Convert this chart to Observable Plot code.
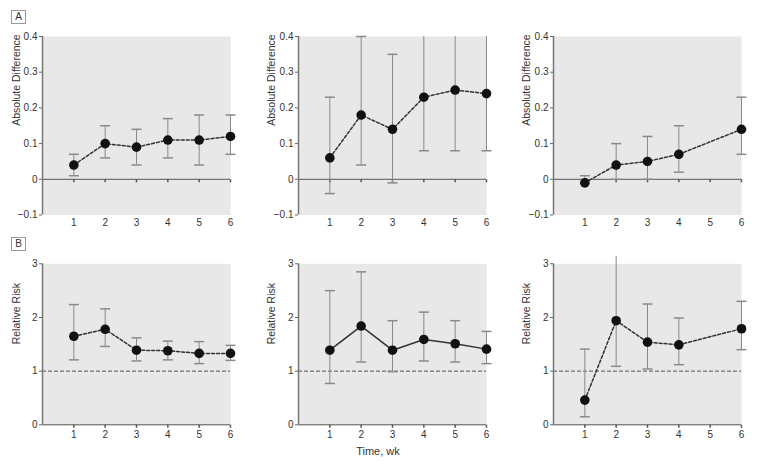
<!DOCTYPE html>
<html><head><meta charset="utf-8">
<script src="https://cdn.jsdelivr.net/npm/d3@7"></script>
<script src="https://cdn.jsdelivr.net/npm/@observablehq/plot@0.6"></script>
<style>
body{margin:0;background:#fff;}
#chart{position:relative;width:760px;height:461px;font-family:"Liberation Sans",Arial,sans-serif;color:#333;overflow:hidden;}
.panel{position:absolute;}
.panel svg{overflow:visible;}
.tag{position:absolute;width:13px;height:12px;border:1px solid #9a9a9a;font-size:10px;line-height:12px;text-align:center;color:#333;box-sizing:content-box;}
#xlabel{position:absolute;left:328px;width:100px;top:445px;text-align:center;font-size:11px;color:#333;}
</style></head><body><div id="chart"></div><script>
// ---- data ----
const weeksAll = [1, 2, 3, 4, 5, 6];
const weeksSkip5 = [1, 2, 3, 4, 6];
const weekTicks = [1, 2, 3, 4, 5, 6];

// Panel A: absolute difference
const a1Est = [0.04, 0.10, 0.09, 0.11, 0.11, 0.12];
const a1Lo  = [0.01, 0.06, 0.04, 0.06, 0.04, 0.07];
const a1Hi  = [0.07, 0.15, 0.14, 0.17, 0.18, 0.18];

const a2Est = [0.06, 0.18, 0.14, 0.23, 0.25, 0.24];
const a2Lo  = [-0.04, 0.04, -0.01, 0.08, 0.08, 0.08];
const a2Hi  = [0.23, 0.40, 0.35, 0.40, 0.40, 0.40];
const a2CapHi = [true, true, true, false, false, false];

const a3Est = [-0.01, 0.04, 0.05, 0.07, 0.14];
const a3Lo  = [-0.012, 0.00, 0.00, 0.02, 0.07];
const a3Hi  = [0.01, 0.10, 0.12, 0.15, 0.23];

// Panel B: relative risk
const b1Est = [1.65, 1.78, 1.39, 1.38, 1.33, 1.33];
const b1Lo  = [1.21, 1.46, 1.19, 1.21, 1.14, 1.20];
const b1Hi  = [2.24, 2.16, 1.62, 1.56, 1.55, 1.48];

const b2Est = [1.39, 1.84, 1.39, 1.59, 1.51, 1.41];
const b2Lo  = [0.77, 1.17, 0.99, 1.19, 1.17, 1.14];
const b2Hi  = [2.50, 2.85, 1.94, 2.10, 1.94, 1.74];

const b3Est = [0.46, 1.94, 1.54, 1.49, 1.79];
const b3Lo  = [0.15, 1.09, 1.04, 1.12, 1.40];
const b3Hi  = [1.41, 3.14, 2.25, 1.99, 2.30];
const b3CapHi = [true, false, true, true, true];

const yTicksA = [-0.1, 0, 0.1, 0.2, 0.3, 0.4];
const yTickLabelsA = ["\u22120.1", "0", "0.1", "0.2", "0.3", "0.4"];
const yTicksB = [0, 1, 2, 3];
const yTickLabelsB = ["0", "1", "2", "3"];

const labelA = "Absolute Difference";
const labelB = "Relative Risk";
const xLabel = "Time, wk";

// ---- build ----
function rows(weeks, est, lo, hi, capHi) {
  return weeks.map((w, i) => ({week: w, est: est[i], lo: lo[i], hi: hi[i], capHi: capHi ? capHi[i] : true}));
}
const capSym = {draw(ctx) { ctx.moveTo(-5, 0); ctx.lineTo(5, 0); }};
const tickSym = {draw(ctx) { ctx.moveTo(0, 0); ctx.lineTo(0, 3); }};
const FONT = '"Liberation Sans",Arial,sans-serif';

const cols = [
  {left: 0, width: 250, mL: 42, mR: 20, dx: -26},
  {left: 250, width: 256, mL: 48, mR: 20, dx: -27},
  {left: 500, width: 260, mL: 53, mR: 19, dx: -27}
];
const rowsCfg = [
  {top: 0, height: 232, mT: 36, mB: 17.5, domain: [-0.1, 0.4], ticks: yTicksA, labels: yTickLabelsA, ylabel: labelA, ref: false, pad: 4},
  {top: 232, height: 229, mT: 31.3, mB: 36.7, domain: [0, 3], ticks: yTicksB, labels: yTickLabelsB, ylabel: labelB, ref: true, pad: 6.5}
];
const panels = [
  [rows(weeksAll, a1Est, a1Lo, a1Hi), false],
  [rows(weeksAll, a2Est, a2Lo, a2Hi, a2CapHi), false],
  [rows(weeksSkip5, a3Est, a3Lo, a3Hi), false],
  [rows(weeksAll, b1Est, b1Lo, b1Hi), false],
  [rows(weeksAll, b2Est, b2Lo, b2Hi), true],
  [rows(weeksSkip5, b3Est, b3Lo, b3Hi, b3CapHi), false]
];

const chart = document.getElementById("chart");
panels.forEach(([data, solid], k) => {
  const c = cols[k % 3], r = rowsCfg[Math.floor(k / 3)];
  const fmt = new Map(r.ticks.map((t, i) => [t, r.labels[i]]));
  const plot = Plot.plot({
    width: c.width, height: r.height,
    marginLeft: c.mL, marginRight: c.mR, marginTop: r.mT, marginBottom: r.mB,
    x: {domain: [0, 6]},
    y: {domain: r.domain},
    style: {background: "transparent", fontFamily: FONT, fontSize: "10px", color: "#333", overflow: "visible"},
    marks: [
      Plot.frame({fill: "#e8e8e8"}),
      r.ref ? Plot.ruleY([1], {stroke: "#555", strokeDasharray: "4,2"}) : null,
      Plot.ruleY([0], {stroke: "#555"}),
      Plot.dot(weekTicks, {x: d => d, y: () => 0, symbol: tickSym, stroke: "#555", fill: "none"}),
      Plot.ruleX([0], {stroke: "#777", strokeWidth: 1.5}),
      Plot.axisY(r.ticks, {tickSize: 3, tickPadding: 2, tickFormat: d => fmt.get(d), label: null, stroke: "#666"}),
      Plot.axisX(weekTicks, {tickSize: 0, tickPadding: r.pad, label: null}),
      Plot.text([r.ylabel], {frameAnchor: "left", rotate: -90, dx: c.dx, text: d => d, fontSize: 10.5}),
      Plot.ruleX(data, {x: "week", y1: "lo", y2: "hi", stroke: "#8a8a8a"}),
      Plot.dot(data.filter(d => d.capHi), {x: "week", y: "hi", symbol: capSym, stroke: "#8a8a8a", fill: "none"}),
      Plot.dot(data, {x: "week", y: "lo", symbol: capSym, stroke: "#8a8a8a", fill: "none"}),
      Plot.line(data, {x: "week", y: "est", stroke: "#333", strokeDasharray: solid ? null : "3,2"}),
      Plot.dot(data, {x: "week", y: "est", r: 4.8, fill: "#111"})
    ]
  });
  const div = document.createElement("div");
  div.className = "panel";
  div.style.left = c.left + "px";
  div.style.top = r.top + "px";
  div.appendChild(plot);
  chart.appendChild(div);
});

[["A", 10], ["B", 237]].forEach(([t, top]) => {
  const d = document.createElement("div");
  d.className = "tag";
  d.style.left = "11px";
  d.style.top = top + "px";
  d.textContent = t;
  chart.appendChild(d);
});
const xl = document.createElement("div");
xl.id = "xlabel";
xl.textContent = xLabel;
chart.appendChild(xl);
</script></body></html>
